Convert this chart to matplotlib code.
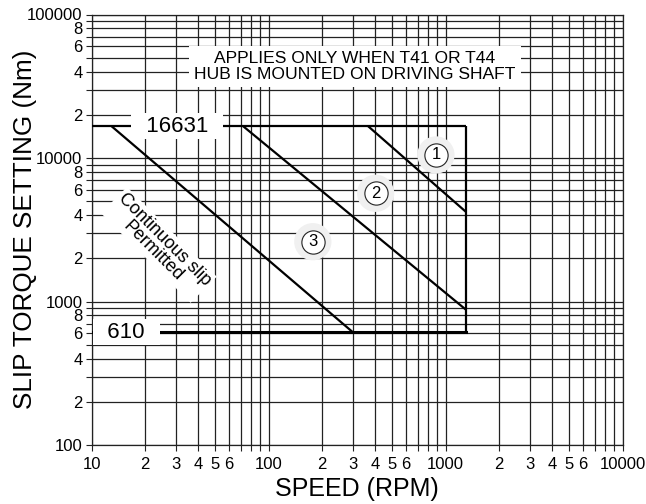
import matplotlib
matplotlib.use('Agg')
import matplotlib.pyplot as plt

plt.rcParams['font.family'] = ['Liberation Sans', 'DejaVu Sans']

# ---- data ----
speed_limit = 1300          # RPM, right edge of operating envelope
torque_max = 16631          # Nm
torque_min = 610            # Nm

curve_names = ['1', '2', '3']
curve_start_speed = [366, 72, 13]
curve_start_torque = [16631, 16631, 16631]
curve_end_speed = [1300, 1300, 300]
curve_end_torque = [4230, 880, 610]

label_speed = [883, 403, 178]
label_torque = [10500, 5675, 2610]

x_ticks = [m * 10 ** e for e in (1, 2, 3) for m in range(1, 10)] + [10000]
x_ticklabels = []
for t in x_ticks:
    s = str(t)
    lead = int(s[0])
    if lead == 1:
        x_ticklabels.append(s)
    elif lead <= 6:
        x_ticklabels.append(str(lead))
    else:
        x_ticklabels.append('')

y_ticks = [m * 10 ** e for e in (2, 3, 4) for m in range(1, 10)] + [100000]
y_ticklabels = []
for t in y_ticks:
    s = str(t)
    lead = int(s[0])
    if lead == 1:
        y_ticklabels.append(s)
    elif lead % 2 == 0:
        y_ticklabels.append(str(lead))
    else:
        y_ticklabels.append('')

note_text = "APPLIES ONLY WHEN T41 OR T44\nHUB IS MOUNTED ON DRIVING SHAFT"
note_pos = (308, 43500)
max_label_pos = (30.4, 16631)
min_label_pos = (15.7, 610)
slip_text = "Continuous slip\nPermitted"
slip_pos = (24.0, 2480)

# ---- figure ----
fig = plt.figure(figsize=(6.46, 5.04), dpi=100)
ax = fig.add_axes([91.5 / 646, 1 - 445 / 504, (622.5 - 91.5) / 646, (445 - 14.5) / 504])
ax.set_xscale('log')
ax.set_yscale('log')
ax.set_xlim(10, 10000)
ax.set_ylim(100, 100000)

ax.set_xticks(x_ticks)
ax.set_xticklabels(x_ticklabels)
ax.set_yticks(y_ticks)
ax.set_yticklabels(y_ticklabels)
ax.minorticks_off()
ax.tick_params(axis='both', which='both', direction='out', length=4.5, width=0.8,
               labelsize=12, color='#222222')
ax.tick_params(axis='x', pad=4)
ax.tick_params(axis='y', pad=2)

ax.grid(True, which='major', color='#222222', lw=0.9)
ax.set_axisbelow(True)
for sp in ax.spines.values():
    sp.set_color('#222222')
    sp.set_linewidth(0.9)

line_kw = dict(color='black', lw=1.6, zorder=3, solid_capstyle='butt')
# envelope
ax.plot([10, speed_limit], [torque_max, torque_max], **line_kw)
ax.plot([10, speed_limit], [torque_min, torque_min], color='black', lw=2.2, zorder=3)
ax.plot([speed_limit, speed_limit], [torque_min, torque_max], **line_kw)
# curves
for xs, ys, xe, ye in zip(curve_start_speed, curve_start_torque, curve_end_speed, curve_end_torque):
    ax.plot([xs, xe], [ys, ye], **line_kw)

# circled labels
ax.scatter(label_speed, label_torque, s=720, color='#f0f0f0', edgecolors='none', zorder=4)
ax.scatter(label_speed, label_torque, s=280, facecolors='white', edgecolors='#222222',
           linewidths=0.8, zorder=5)
for name, xs, ys in zip(curve_names, label_speed, label_torque):
    ax.text(xs, ys, name, ha='center', va='center', fontsize=12, zorder=6)

white_box = dict(boxstyle='square,pad=0.12', fc='white', ec='none')
ax.text(*note_pos, note_text, ha='center', va='center', fontsize=12.6, linespacing=1.1,
        bbox=dict(boxstyle='square,pad=0.3', fc='white', ec='none'), zorder=5)
ax.text(*max_label_pos, '  ' + str(torque_max) + '  ', ha='center', va='center', fontsize=16,
        bbox=white_box, zorder=5)
ax.text(*min_label_pos, '  ' + str(torque_min) + '  ', ha='center', va='center', fontsize=16,
        bbox=white_box, zorder=5)
ax.text(*slip_pos, slip_text, ha='center', va='center', rotation=-45, rotation_mode='anchor',
        fontsize=13, linespacing=0.95,
        bbox=dict(boxstyle='square,pad=0.1', fc='white', ec='none'), zorder=5)

ax.set_xlabel('SPEED (RPM)', fontsize=18, labelpad=4)
ax.set_ylabel('SLIP TORQUE SETTING (Nm)', fontsize=18.8, va='center')
ax.yaxis.set_label_coords(-0.126, 0.5)

fig.savefig('out.png', dpi=100)
